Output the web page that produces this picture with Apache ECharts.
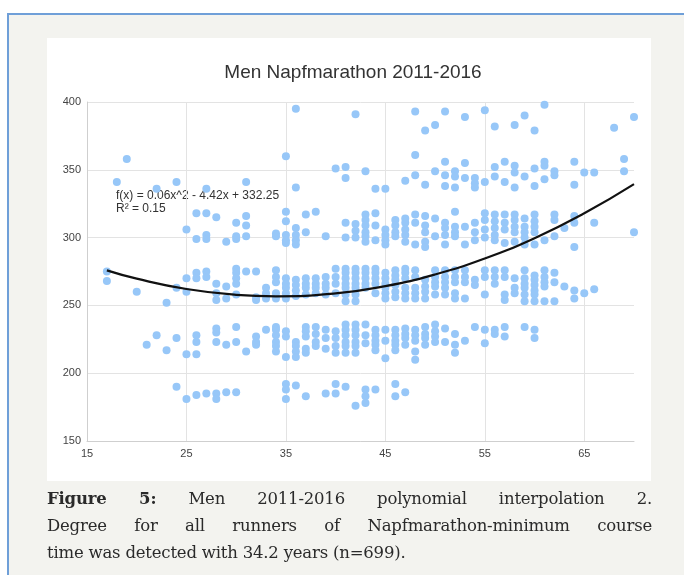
<!DOCTYPE html>
<html>
<head>
<meta charset="utf-8">
<script src="https://cdn.jsdelivr.net/npm/echarts@6/dist/echarts.min.js"></script>
<style>
  html, body { margin:0; padding:0; }
  body { width:684px; height:575px; position:relative; overflow:hidden; background:#ffffff; }
  #frame { position:absolute; left:7px; top:13px; right:0; bottom:0; background:#f3f3ef; border-left:2px solid #6f9fd8; border-top:2px solid #6f9fd8; }
  #panel { position:absolute; left:47px; top:38px; width:604px; height:443px; background:#ffffff; }
  #chart { position:absolute; left:0; top:0; width:684px; height:575px; }
  #caption { position:absolute; left:47px; top:485px; width:605px; font-family:"DejaVu Serif", serif; font-size:16.5px; letter-spacing:-0.2px; line-height:27px; color:#2a2a2a; }
  #caption .l { text-align:justify; text-align-last:justify; white-space:nowrap; }
  #caption .last { text-align:left; }
</style>
</head>
<body>
<div id="frame"></div>
<div id="panel"></div>
<div id="chart"></div>
<div id="caption">
  <div class="l"><b>Figure 5:</b> Men 2011-2016 polynomial interpolation 2.</div>
  <div class="l">Degree for all runners of Napfmarathon-minimum course</div>
  <div class="last">time was detected with 34.2 years (n=699).</div>
</div>
<script>
// ---- data ----
var chartTitle = "Men Napfmarathon 2011-2016";
var equationText = "f(x) = 0.06x^2 - 4.42x + 332.25";
var r2Text = "R\u00b2 = 0.15";

// runner ages (x) and course times (y), one age per column
var ageColumns = [17,18,19,20,21,22,23,24,25,26,27,28,29,30,31,32,33,34,35,36,37,38,39,40,41,42,43,44,45,46,47,48,49,50,51,52,53,54,55,56,57,58,59,60,61,62,63,64,65,66,68,69,70];
var timesByAge = [
  [275,268],
  [341],
  [358],
  [260],
  [221],
  [336,228],
  [252,217],
  [341,263,226,190],
  [306,270,260,214,181],
  [318,299,274,270,228,223,214,184],
  [336,318,302,299,275,271,185],
  [315,266,259,254,233,230,223,185,181],
  [297,264,255,221,186],
  [311,301,299,277,274,270,266,258,234,223,186],
  [341,316,309,301,275,216],
  [275,256,254,227,223,221],
  [263,259,255,232],
  [303,301,276,271,267,259,255,234,232,228,223,220,216],
  [360,319,312,302,298,296,270,266,263,259,255,231,227,212,192,188,181],
  [395,337,307,302,298,295,269,265,261,257,223,220,216,212,191],
  [317,304,270,266,263,258,234,231,227,218,215,183],
  [319,270,266,263,259,234,229,223,220],
  [301,271,266,263,258,232,226,218,185],
  [351,277,271,266,259,231,226,220,215,192,185],
  [352,344,311,300,277,274,270,266,263,258,253,236,232,228,223,220,215,190],
  [391,310,305,300,277,274,270,266,263,258,253,236,232,228,223,220,215,176],
  [349,317,313,309,304,301,297,277,274,270,266,263,236,228,222,188,183,178],
  [336,318,309,298,277,274,270,266,259,232,228,224,221,217,188],
  [336,306,302,298,295,274,270,266,263,259,255,232,224,211],
  [313,309,304,301,276,272,269,265,260,256,232,228,224,221,217,192,183],
  [342,314,311,306,302,297,277,274,270,263,259,255,233,229,226,221,186],
  [393,361,346,317,311,295,276,271,263,259,255,232,228,224,216,210],
  [379,339,316,309,304,297,293,269,264,260,255,234,229,226,221],
  [383,349,314,301,276,271,267,264,258,236,231,227,223],
  [393,356,346,338,311,307,302,295,276,271,267,263,258,233,223],
  [349,345,337,319,308,304,301,276,271,267,259,255,229,221,215],
  [389,355,344,308,295,276,271,267,255,224],
  [344,340,337,311,304,298,269,265,234],
  [394,341,318,313,306,300,276,271,258,232,222],
  [382,352,345,317,312,307,302,298,276,271,266,232,229],
  [356,341,317,311,306,296,276,271,258,254,234,227],
  [383,353,348,337,317,313,308,304,297,270,263,259],
  [390,345,314,308,304,300,295,276,270,266,263,258,253,234],
  [379,351,338,317,312,308,304,295,272,269,265,261,258,253,232,226],
  [398,356,353,343,298,276,271,267,264,253],
  [349,346,317,313,301,274,267,253],
  [307,264],
  [356,339,316,311,293,261,255],
  [348,259],
  [348,311,262],
  [381],
  [358,349],
  [389,304]
];

// fitted trend curve
var trendAges  = [17, 20, 25, 30, 34, 40, 45, 50, 55, 60, 65, 70];
var trendTimes = [275.8, 269.7, 262.1, 257.8, 256.7, 258.8, 264.2, 272.8, 284.6, 299.6, 317.9, 339.4];

// axis settings
var xMin = 15, xMax = 70, xStep = 10;
var yMin = 150, yMax = 400, yStep = 50;

// ---- build ----
var scatterData = [];
ageColumns.forEach(function (age, i) {
  timesByAge[i].forEach(function (t) { scatterData.push([age, t]); });
});
var trendData = trendAges.map(function (a, i) { return [a, trendTimes[i]]; });

var chart = echarts.init(document.getElementById('chart'), null, { renderer: 'canvas' });
var font = '"Liberation Sans", Arial, sans-serif';
chart.setOption({
  backgroundColor: 'transparent',
  animation: false,
  title: {
    text: chartTitle,
    left: 348, top: 58, textAlign: 'center',
    textStyle: { fontFamily: font, fontSize: 19, fontWeight: 'normal', color: '#333' }
  },
  grid: { left: 87, right: 50, top: 102, bottom: 134, containLabel: false },
  xAxis: {
    type: 'value', min: xMin, max: xMax, interval: xStep,
    axisLine: { show: true, lineStyle: { color: '#cfcfcf' } },
    axisTick: { show: false },
    axisLabel: { color: '#444', fontFamily: font, fontSize: 11, margin: 7, showMaxLabel: false },
    splitLine: { show: true, showMaxLine: false, showMinLine: false, lineStyle: { color: '#e3e3e3' } }
  },
  yAxis: {
    type: 'value', min: yMin, max: yMax, interval: yStep,
    axisLine: { show: true, lineStyle: { color: '#cfcfcf' } },
    axisTick: { show: false },
    axisLabel: { color: '#444', fontFamily: font, fontSize: 11, margin: 6 },
    splitLine: { show: true, lineStyle: { color: '#e3e3e3' } }
  },
  graphic: [
    { type: 'text', left: 116, top: 190, style: { text: equationText, font: '12px ' + font, fill: '#333' } },
    { type: 'text', left: 116, top: 203, style: { text: r2Text, font: '12px ' + font, fill: '#333' } }
  ],
  series: [
    {
      type: 'scatter', data: scatterData, symbolSize: 8,
      itemStyle: { color: '#97c7f8', opacity: 1 }, z: 2
    },
    {
      type: 'line', data: trendData, smooth: true, showSymbol: false, symbol: 'none',
      lineStyle: { color: '#111', width: 2.2 }, z: 3
    }
  ]
});
</script>
</body>
</html>
